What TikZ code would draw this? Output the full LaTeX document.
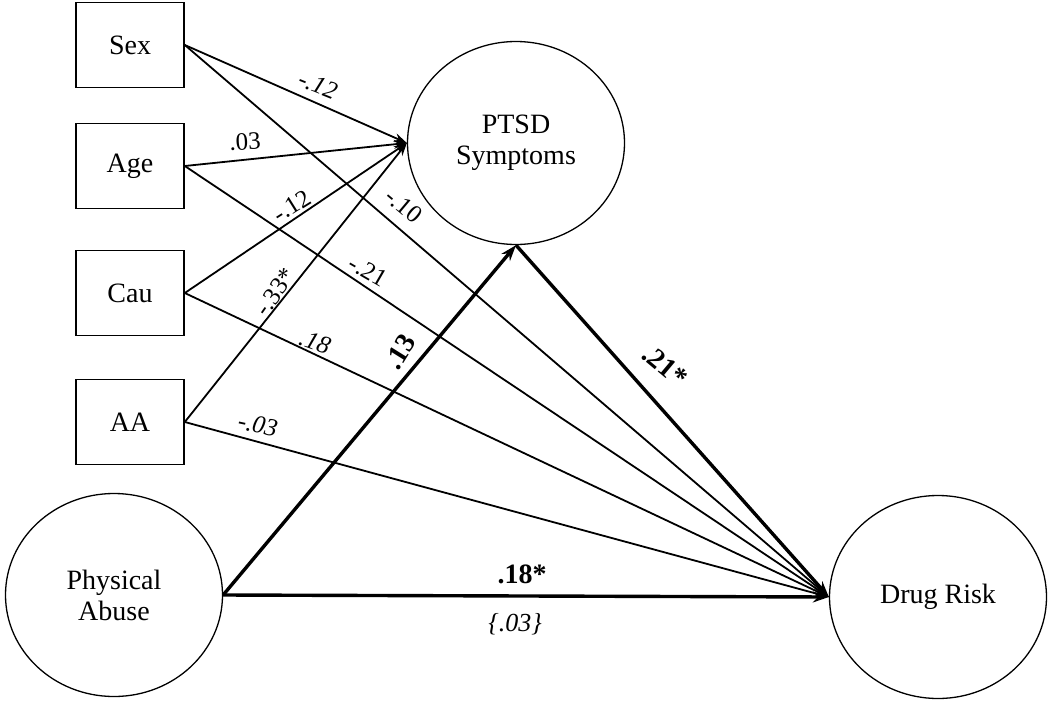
\documentclass[tikz,border=0pt]{standalone}
\usepackage{fontspec}
\setmainfont{Liberation Serif}
\usetikzlibrary{shapes.geometric,arrows.meta}
\begin{document}
\begin{tikzpicture}[x=1pt,y=-1pt,
  varbox/.style={draw,line width=1.6pt,minimum width=108pt,minimum height=85pt,inner sep=0pt,font=\fontsize{28}{32}\selectfont},
  latent/.style={draw,ellipse,line width=1.3pt,minimum width=217pt,minimum height=203pt,inner sep=0pt,align=center,font=\fontsize{28}{31}\selectfont},
  path/.style={line width=1.8pt,-{Stealth[length=13pt,width=9pt]}},
  mainpath/.style={line width=3.4pt,-{Stealth[length=16pt,width=11pt]}},
  coef/.style={font=\fontsize{25}{28}\selectfont,inner sep=1pt},
  coefb/.style={font=\bfseries\fontsize{28}{30}\selectfont,inner sep=1pt}]
\useasboundingbox (0,0) rectangle (1050,707);
\node[varbox] (sex) at (130,45) {Sex};
\node[varbox] (age) at (130,166) {Age};
\node[varbox] (cau) at (130,293) {Cau};
\node[varbox] (aa) at (130,422) {AA};
\node[latent] (ptsd) at (516,143) {PTSD\\Symptoms};
\node[latent] (pa) at (114,595) {Physical\\Abuse};
\node[latent] (dr) at (938,597) {Drug Risk};
% paths to PTSD
\draw[path] (sex.east) -- (ptsd.west);
\draw[path] (age.east) -- (ptsd.west);
\draw[path] (cau.east) -- (ptsd.west);
\draw[path] (aa.east) -- (ptsd.west);
% paths to Drug Risk
\draw[path] (sex.east) -- (dr.west);
\draw[path] (age.east) -- (dr.west);
\draw[path] (cau.east) -- (dr.west);
\draw[path] (aa.east) -- (dr.west);
% main paths
\draw[mainpath] (pa.east) -- (ptsd.south);
\draw[mainpath] (ptsd.south) -- (dr.west);
\draw[mainpath] (pa.east) -- (dr.west);
% coefficients
\node[coef,rotate=-22] (c1) at (318,85) {\itshape -.12};
\node[coef,rotate=3] (c2) at (245,142) {.03};
\node[coef,rotate=32] (c3) at (292,206) {-.12};
\node[coef,rotate=-40] (c4) at (404,206) {-.10};
\node[coef,rotate=-30] (c5) at (368,271) {-.21};
\node[coef,rotate=55] (c6) at (275,292) {-.33*};
\node[coef,rotate=-20] (c7) at (315,342) {\itshape .18};
\node[coefb,rotate=58] (c8) at (400,352) {.13};
\node[coef,rotate=-12] (c9) at (258,425) {\itshape -.03};
\node[coefb,rotate=-40] (c10) at (665,366) {.21*};
\node[coefb] (c11) at (522,574) {.18*};
\node[coef,font=\itshape\fontsize{26}{28}\selectfont] (c12) at (515,624) {\{.03\}};
\end{tikzpicture}
\end{document}
